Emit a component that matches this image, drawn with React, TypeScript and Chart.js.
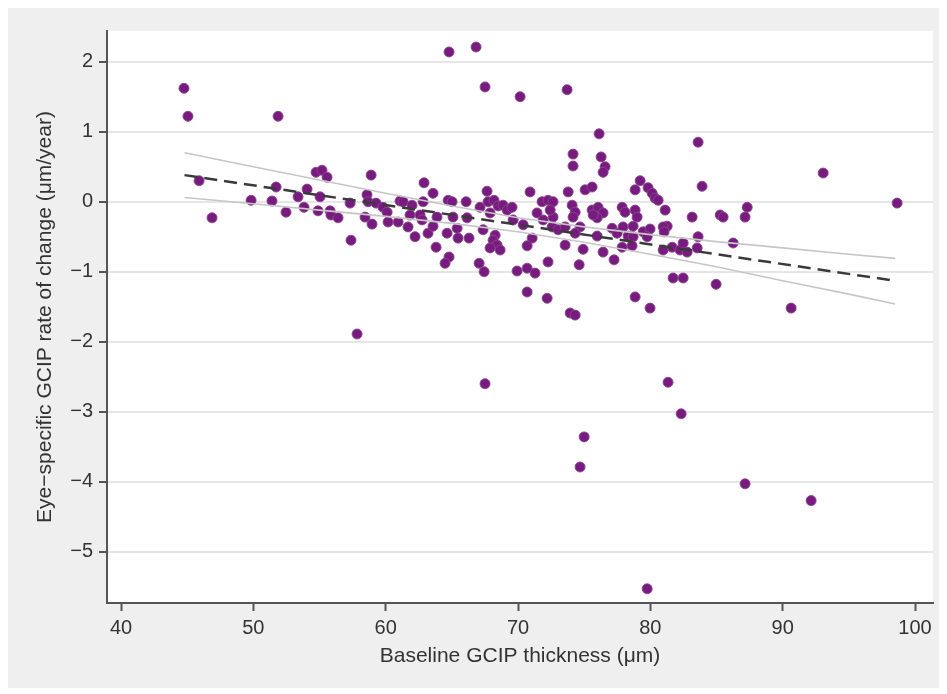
import React, { useEffect, useRef } from "react";
import { Chart, registerables } from "chart.js";

Chart.register(...registerables);

// Baseline GCIP thickness (µm) for each eye
const baselineThickness: number[] = [
  44.76, 45.06, 45.9, 46.88, 51.87, 49.83, 51.41, 51.72, 52.47, 53.38,
  54.06, 53.83, 54.74, 55.19, 55.57, 55.04, 54.89, 55.8, 55.87, 56.4,
  57.31, 57.38, 57.84, 58.59, 58.9, 58.67, 58.44, 58.97, 59.27, 59.8,
  60.11, 60.18, 61.09, 61.32, 60.94, 61.69, 61.84, 61.99, 62.22, 62.6,
  62.75, 62.9, 62.83, 63.58, 63.2, 63.58, 63.88, 63.81, 64.64, 64.72,
  65.02, 65.09, 65.4, 65.47, 64.79, 64.49, 66.08, 66.15, 66.3, 67.13,
  67.36, 67.06, 67.44, 67.66, 67.74, 68.19, 68.5, 67.89, 68.27, 68.12,
  68.42, 68.65, 67.89, 68.87, 69.18, 69.55, 69.63, 69.93, 70.69, 71.29,
  70.69, 72.2, 70.91, 71.82, 72.27, 72.65, 71.44, 71.9, 72.65, 72.58,
  71.07, 70.69, 72.27, 70.39, 73.03, 67.51, 64.79, 66.83, 67.51, 70.16,
  73.71, 76.13, 74.16, 74.16, 76.28, 76.58, 76.43, 83.61, 83.91, 79.23,
  78.85, 79.83, 80.14, 80.36, 80.59, 81.12, 81.27, 83.16, 85.28, 85.5,
  87.32, 87.16, 86.26, 73.79, 75.07, 75.6, 72.43, 74.09, 74.32, 74.16,
  75.6, 76.05, 76.43, 75.98, 75.68, 77.87, 78.09, 78.85, 79.0, 73.56,
  74.69, 74.32, 75.98, 77.11, 77.49, 77.94, 78.7, 78.32, 78.7, 79.46,
  79.98, 80.97, 81.04, 79.76, 77.87, 78.62, 80.97, 81.65, 82.25, 82.48,
  82.78, 83.54, 83.61, 73.56, 74.92, 76.43, 74.62, 77.26, 81.72, 82.48,
  84.97, 78.85, 79.98, 73.94, 74.32, 75.0, 74.69, 81.34, 82.33, 87.16,
  92.15, 79.76, 93.06, 98.65, 90.64,
];

// Eye-specific GCIP rate of change (µm/year), same order
const rateOfChange: number[] = [
  1.62, 1.22, 0.3, -0.23, 1.22, 0.02, 0.01, 0.21, -0.15, 0.07,
  0.18, -0.08, 0.42, 0.45, 0.35, 0.07, -0.13, -0.13, -0.19, -0.23,
  -0.02, -0.55, -1.89, 0.1, 0.38, 0.0, -0.22, -0.32, -0.02, -0.08,
  -0.15, -0.29, 0.01, 0.0, -0.29, -0.36, -0.19, -0.05, -0.5, -0.19,
  -0.26, 0.27, 0.0, 0.12, -0.45, -0.35, -0.22, -0.65, -0.45, 0.02,
  0.0, -0.22, -0.38, -0.52, -0.79, -0.88, 0.0, -0.23, -0.52, -0.08,
  -0.4, -0.88, -1.0, 0.15, 0.0, 0.02, -0.06, -0.16, -0.48, -0.55,
  -0.62, -0.69, -0.66, -0.05, -0.12, -0.08, -0.26, -0.99, -0.95, -1.02,
  -1.29, -1.38, 0.14, 0.0, 0.02, 0.0, -0.16, -0.26, -0.22, -0.36,
  -0.52, -0.63, -0.86, -0.33, -0.4, -2.6, 2.14, 2.21, 1.64, 1.5,
  1.6, 0.97, 0.68, 0.51, 0.64, 0.5, 0.42, 0.85, 0.22, 0.3,
  0.17, 0.2, 0.12, 0.05, 0.02, -0.12, -0.35, -0.22, -0.19, -0.22,
  -0.08, -0.22, -0.59, 0.14, 0.17, 0.21, -0.12, -0.05, -0.15, -0.22,
  -0.12, -0.08, -0.16, -0.23, -0.19, -0.08, -0.15, -0.12, -0.22, -0.36,
  -0.36, -0.45, -0.49, -0.38, -0.45, -0.36, -0.35, -0.49, -0.5, -0.43,
  -0.39, -0.36, -0.43, -0.5, -0.65, -0.63, -0.69, -0.65, -0.69, -0.59,
  -0.72, -0.66, -0.5, -0.62, -0.68, -0.72, -0.9, -0.83, -1.09, -1.09,
  -1.18, -1.36, -1.52, -1.59, -1.62, -3.36, -3.79, -2.58, -3.03, -4.03,
  -4.27, -5.53, 0.41, -0.02, -1.52,
];

// Fitted regression line (dashed)
const fitX: number[] = [44.8, 98.5];
const fitY: number[] = [0.38, -1.13];

// 95% confidence band around the fit (grey lines)
const ciX: number[] = [44.8, 50, 55, 60, 65, 70, 75, 80, 85, 90, 95, 98.5];
const ciUpper: number[] = [0.7, 0.5, 0.31, 0.12, -0.06, -0.23, -0.36, -0.47, -0.57, -0.66, -0.75, -0.81];
const ciLower: number[] = [0.06, -0.03, -0.12, -0.21, -0.31, -0.43, -0.58, -0.75, -0.93, -1.13, -1.32, -1.46];

const xTicks: number[] = [40, 50, 60, 70, 80, 90, 100];
const yTicks: number[] = [-5, -4, -3, -2, -1, 0, 1, 2];

const xTitle = "Baseline GCIP thickness (\u03bcm)";
const yTitle = "Eye\u2212specific GCIP rate of change (\u03bcm/year)";

const FONT = "'Liberation Sans', Arial, Helvetica, sans-serif";

const backgroundPlugin = {
  id: "panelBackground",
  beforeDraw(chart: any) {
    const { ctx, chartArea } = chart;
    ctx.save();
    ctx.fillStyle = "#efefef";
    ctx.fillRect(0, 0, chart.width, chart.height);
    ctx.fillStyle = "#ffffff";
    ctx.fillRect(chartArea.left, chartArea.top, chartArea.right - chartArea.left, chartArea.bottom - chartArea.top);
    ctx.restore();
  },
};

export default function App() {
  const canvasRef = useRef<HTMLCanvasElement | null>(null);

  useEffect(() => {
    if (!canvasRef.current) return;
    const points = baselineThickness.map((x, i) => ({ x, y: rateOfChange[i] }));
    const fit = fitX.map((x, i) => ({ x, y: fitY[i] }));
    const upper = ciX.map((x, i) => ({ x, y: ciUpper[i] }));
    const lower = ciX.map((x, i) => ({ x, y: ciLower[i] }));

    const chart = new Chart(canvasRef.current, {
      type: "scatter",
      data: {
        datasets: [
          {
            type: "line",
            data: fit,
            borderColor: "#3a3a3a",
            borderWidth: 2.5,
            borderDash: [13, 7],
            pointRadius: 0,
            fill: false,
            order: 0,
          },
          {
            type: "line",
            data: upper,
            borderColor: "#c6c6c6",
            borderWidth: 1.6,
            pointRadius: 0,
            fill: false,
            order: 1,
          },
          {
            type: "line",
            data: lower,
            borderColor: "#c6c6c6",
            borderWidth: 1.6,
            pointRadius: 0,
            fill: false,
            order: 1,
          },
          {
            type: "scatter",
            data: points,
            backgroundColor: "#781b7e",
            borderColor: "rgba(140,70,145,0.9)",
            borderWidth: 1,
            pointRadius: 5,
            order: 2,
          },
        ],
      } as any,
      options: {
        responsive: false,
        animation: false,
        events: [],
        layout: { padding: { top: 23, right: 14, left: 0, bottom: 0 } },
        plugins: {
          legend: { display: false },
          tooltip: { enabled: false },
        },
        scales: {
          x: {
            type: "linear",
            min: 38.942,
            max: 101.36,
            afterFit: (scale: any) => {
              scale.height = 85;
            },
            afterBuildTicks: (scale: any) => {
              scale.ticks = xTicks.map((v) => ({ value: v }));
            },
            grid: {
              display: true,
              drawOnChartArea: false,
              drawTicks: true,
              tickLength: 8,
              tickColor: "#555555",
              tickWidth: 2,
            },
            border: { display: true, color: "#555555", width: 2 },
            ticks: {
              padding: 5,
              color: "#333333",
              font: { family: FONT, size: 20 },
              maxRotation: 0,
              autoSkip: false,
              callback: (v: any) => String(v),
            },
            title: {
              display: true,
              text: xTitle,
              color: "#333333",
              font: { family: FONT, size: 21 },
              padding: { top: 0, bottom: 19 },
            },
          },
          y: {
            type: "linear",
            min: -5.733,
            max: 2.439,
            afterFit: (scale: any) => {
              scale.width = 99;
            },
            afterBuildTicks: (scale: any) => {
              scale.ticks = yTicks.map((v) => ({ value: v }));
            },
            grid: {
              display: true,
              color: "#e6e6e6",
              lineWidth: 2,
              drawTicks: true,
              tickLength: 8,
              tickColor: "#555555",
              tickWidth: 2,
            },
            border: { display: true, color: "#555555", width: 2 },
            ticks: {
              padding: 6,
              color: "#333333",
              font: { family: FONT, size: 20 },
              autoSkip: false,
              callback: (v: any) => (v < 0 ? "\u2212" + Math.abs(v) : String(v)),
            },
            title: {
              display: true,
              text: yTitle,
              color: "#333333",
              font: { family: FONT, size: 21 },
              padding: { top: 25, bottom: 0 },
            },
          },
        },
      },
      plugins: [backgroundPlugin],
    });

    return () => chart.destroy();
  }, []);

  return (
    <div style={{ width: 939, height: 680 }}>
      <canvas ref={canvasRef} width={939} height={680} style={{ display: "block" }} />
    </div>
  );
}
